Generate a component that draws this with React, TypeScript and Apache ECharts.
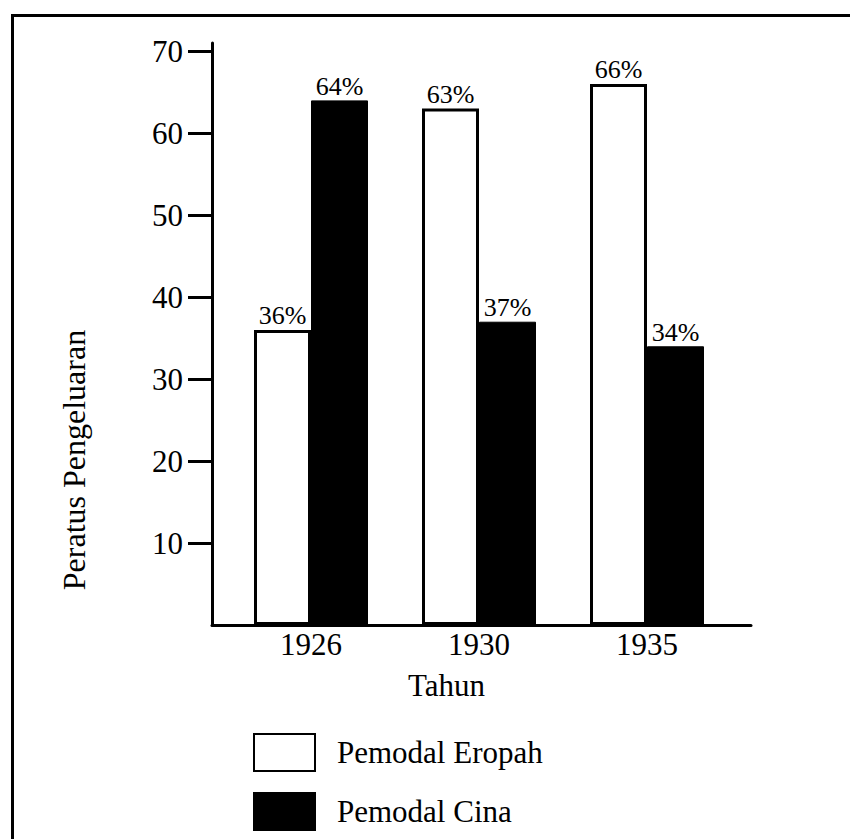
import React, { useEffect, useRef } from "react";
import * as echarts from "echarts";

const years = ["1926", "1930", "1935"];
const europeanShare = [36, 63, 66];
const chineseShare = [64, 37, 34];
const yTickValues = [10, 20, 30, 40, 50, 60, 70];
const seriesNames = ["Pemodal Eropah", "Pemodal Cina"];
const yAxisTitle = "Peratus Pengeluaran";
const xAxisTitle = "Tahun";

const FONT = "Liberation Serif";

function barLabel() {
  return {
    show: true,
    position: "top",
    distance: 1,
    formatter: "{c}%",
    fontSize: 26,
    fontFamily: FONT,
    color: "#000",
    textBorderWidth: 0,
  };
}

export default function App() {
  const ref = useRef<HTMLDivElement>(null);
  useEffect(() => {
    if (!ref.current) return;
    const chart = echarts.init(ref.current, undefined, { renderer: "svg" });
    const yMax = 71;
    chart.setOption({
      animation: false,
      backgroundColor: "#fff",
      grid: [
        { left: 212, top: 43, width: 539, height: 582 },
        { left: 227, top: 43, width: 504, height: 582 },
      ],
      xAxis: [
        {
          gridIndex: 0,
          type: "value",
          min: 0,
          max: 1,
          axisLine: { show: true, onZero: true, lineStyle: { color: "#000", width: 3 } },
          axisTick: { show: false },
          axisLabel: { show: false },
          splitLine: { show: false },
          name: xAxisTitle,
          nameLocation: "middle",
          nameGap: 45,
          nameTextStyle: {
            fontSize: 31,
            fontFamily: FONT,
            color: "#000",
            padding: [0, 70, 0, 0],
          },
        },
        {
          gridIndex: 1,
          type: "category",
          data: years,
          axisLine: { show: false },
          axisTick: { show: false },
          axisLabel: {
            fontSize: 31,
            fontFamily: FONT,
            color: "#000",
            margin: 4,
          },
          splitLine: { show: false },
        },
      ],
      yAxis: [
        {
          gridIndex: 0,
          type: "value",
          min: 0,
          max: yMax,
          axisLine: { show: true, lineStyle: { color: "#000", width: 3 } },
          axisTick: {
            show: true,
            length: 24,
            customValues: yTickValues,
            lineStyle: { color: "#000", width: 3 },
          },
          axisLabel: {
            customValues: yTickValues,
            fontSize: 31,
            fontFamily: FONT,
            color: "#000",
            margin: 29,
          },
          splitLine: { show: false },
          name: yAxisTitle,
          nameLocation: "middle",
          nameRotate: 90,
          nameGap: 122,
          nameTextStyle: {
            fontSize: 32,
            fontFamily: FONT,
            color: "#000",
            padding: [0, 252, 0, 0],
          },
        },
        {
          gridIndex: 1,
          type: "value",
          min: 0,
          max: yMax,
          show: false,
          splitLine: { show: false },
        },
      ],
      legend: {
        orient: "vertical",
        left: 253,
        top: 733,
        height: 200,
        padding: 0,
        itemWidth: 61,
        itemHeight: 37,
        itemGap: 20,
        icon: "rect",
        selectedMode: false,
        textStyle: {
          fontSize: 31,
          fontFamily: FONT,
          color: "#000",
          padding: [0, 0, 0, 17],
        },
        data: seriesNames,
      },
      series: [
        {
          name: seriesNames[0],
          type: "bar",
          xAxisIndex: 1,
          yAxisIndex: 1,
          data: europeanShare,
          barWidth: 57,
          barGap: "0%",
          itemStyle: { color: "#fff", borderColor: "#000", borderWidth: 3 },
          label: barLabel(),
        },
        {
          name: seriesNames[1],
          type: "bar",
          xAxisIndex: 1,
          yAxisIndex: 1,
          data: chineseShare,
          barWidth: 57,
          barGap: "0%",
          itemStyle: { color: "#000", borderColor: "#000", borderWidth: 1 },
          label: barLabel(),
        },
      ],
      graphic: [
        {
          type: "rect",
          left: 10,
          top: 13,
          shape: { x: 0, y: 0, width: 900, height: 900 },
          style: { fill: "none", stroke: "#000", lineWidth: 3 },
          silent: true,
        },
      ],
    });
    return () => chart.dispose();
  }, []);
  return (
    <div
      ref={ref}
      style={{ position: "fixed", left: 0, top: 0, width: 850, height: 839 }}
    />
  );
}
